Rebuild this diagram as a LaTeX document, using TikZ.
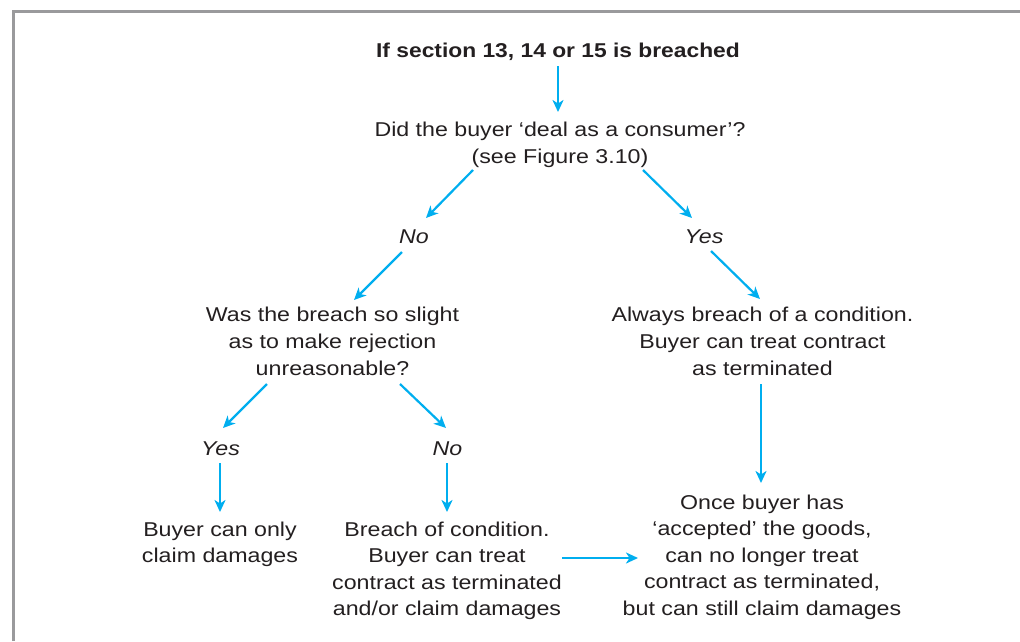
\documentclass[tikz,border=0pt]{standalone}
\usepackage{fontspec}
\setmainfont{Liberation Sans}[FakeStretch=1.16]
\newfontfamily\titlefont{Liberation Sans}[FakeStretch=1.14]
\usetikzlibrary{arrows.meta,calc}
\definecolor{arrowcyan}{HTML}{00AEEF}
\definecolor{framegray}{HTML}{9A9A9C}
\definecolor{textdark}{HTML}{231F20}
\begin{document}
\begin{tikzpicture}[x=1pt,y=-1pt,
  txt/.style={anchor=base,align=center,inner sep=0pt,text=textdark,
    font=\fontsize{20}{26.6}\selectfont},
  lbl/.style={txt,font=\fontsize{20}{26.6}\selectfont\itshape},
  arr/.style={draw=arrowcyan,line width=2.2pt,
    -{Stealth[length=12pt,width=11pt,inset=3.5pt]}}]
\useasboundingbox (0,0) rectangle (1020,641);
% frame (left and top edges)
\draw[framegray,line width=3pt] (13.5,641) -- (13.5,11.3) -- (1020,11.3);
% nodes (positioned at the baseline of their last line)
\node[txt,font=\fontsize{20}{26.6}\selectfont\titlefont\bfseries] (title) at (558,57) {If section 13, 14 or 15 is breached};
\node[txt] (q1) at (560,163.5) {Did the buyer ‘deal as a consumer’?\\(see Figure 3.10)};
\node[lbl] (noA) at (414,243) {No};
\node[lbl] (yesA) at (704,243) {Yes};
\node[txt] (q2) at (332.5,375) {Was the breach so slight\\as to make rejection\\unreasonable?};
\node[txt] (condA) at (762.5,375) {Always breach of a condition.\\Buyer can treat contract\\as terminated};
\node[lbl] (yesB) at (220.5,455) {Yes};
\node[lbl] (noB) at (447.5,455) {No};
\node[txt] (dam) at (220,562.6) {Buyer can only\\claim damages};
\node[txt] (breach) at (447,615.8) {Breach of condition.\\Buyer can treat\\contract as terminated\\and/or claim damages};
\node[txt] (once) at (762,615.4) {Once buyer has\\‘accepted’ the goods,\\can no longer treat\\contract as terminated,\\but can still claim damages};
% connectors
\draw[arr] ($(title.base)+(0,9)$) -- ($(q1.base)+(-2,-51.5)$);
\draw[arr] ($(q1.base)+(-87,6.5)$) -- ($(noA.base)+(12,-25)$);
\draw[arr] ($(q1.base)+(83,6.5)$) -- ($(yesA.base)+(-12,-25)$);
\draw[arr] ($(noA.base)+(-12,9)$) -- ($(q2.base)+(21.5,-75)$);
\draw[arr] ($(yesA.base)+(7,8)$) -- ($(condA.base)+(-2.5,-76)$);
\draw[arr] ($(q2.base)+(-65.5,9)$) -- ($(yesB.base)+(2.5,-27)$);
\draw[arr] ($(q2.base)+(67.5,9)$) -- ($(noB.base)+(-1.5,-27)$);
\draw[arr] ($(yesB.base)+(-0.5,8)$) -- ($(dam.base)+(0,-50.6)$);
\draw[arr] ($(noB.base)+(-0.5,8)$) -- ($(breach.base)+(0,-103.8)$);
\draw[arr] ($(condA.base)+(-1.5,9)$) -- ($(once.base)+(-1,-132.4)$);
\draw[arr] ($(breach.base)+(115,-57.8)$) -- ($(once.base)+(-124,-57.4)$);
\end{tikzpicture}
\end{document}
